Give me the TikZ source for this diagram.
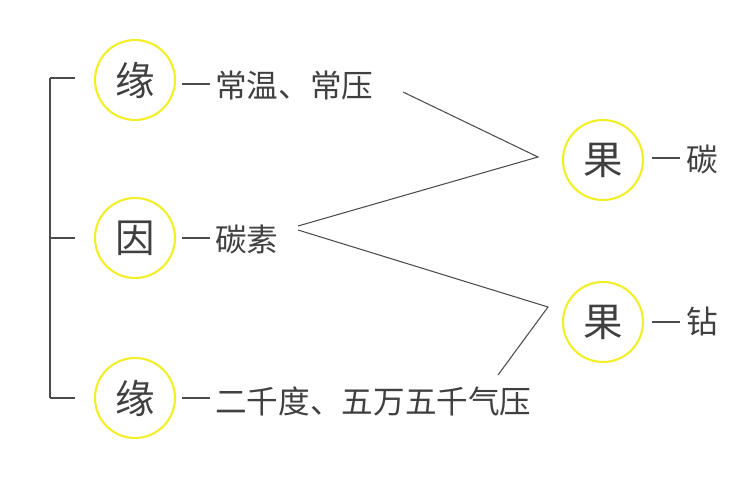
\documentclass[tikz,border=0pt]{standalone}
\usepackage{fontspec}
\newfontfamily\cjk{Noto Sans CJK SC}
\definecolor{cy}{RGB}{242,238,40}
\begin{document}
\begin{tikzpicture}[x=0.02cm,y=-0.02cm,
  circ/.style={circle,draw=cy,line width=1.2pt,minimum size=80*0.02cm,inner sep=0pt,font=\cjk\fontsize{22.5}{22.5}\selectfont,text=black!75},
  lbl/.style={anchor=west,inner sep=0pt,font=\cjk\fontsize{18}{18}\selectfont,text=black!75},
  ln/.style={draw=black!70,line width=0.6pt}]
\useasboundingbox (0,0) rectangle (750,500);
\node[circ] (y1) at (135,80) {缘};
\node[circ] (yin) at (135,238) {因};
\node[circ] (y2) at (135,398) {缘};
\node[circ] (g1) at (603,160) {果};
\node[circ] (g2) at (603,322) {果};
\node[lbl] (t1) at (215,85) {常温、常压};
\node[lbl] (t2) at (215,239) {碳素};
\node[lbl] (t3) at (215,401) {二千度、五万五千气压};
\node[lbl] (t4) at (686,159) {碳};
\node[lbl] (t5) at (686,321) {钻};
\draw[ln] (50,78) -- (50,398);
\foreach \yy in {78,238,398} \draw[ln] (50,\yy) -- (75,\yy);
\foreach \yy in {84,238,398} \draw[ln] (182,\yy) -- (210,\yy);
\foreach \yy in {158,322} \draw[ln] (652,\yy) -- (680,\yy);
\coordinate (a1) at (403,92); \coordinate (a2) at (538,157); \coordinate (a3) at (298,226);
\coordinate (b1) at (298,230); \coordinate (b2) at (548,307); \coordinate (b3) at (498,375);
\draw[ln] (a1) -- (a2) -- (a3);
\draw[ln] (b1) -- (b2) -- (b3);
\end{tikzpicture}
\end{document}
